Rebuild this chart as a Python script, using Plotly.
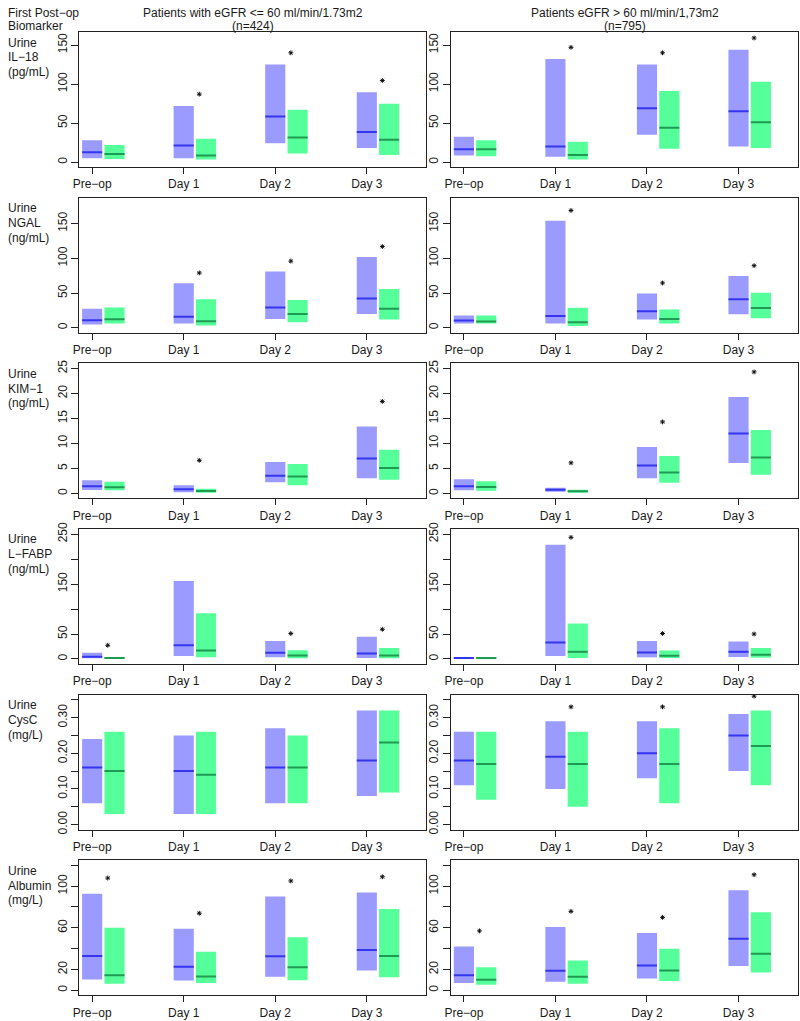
import plotly.graph_objects as go

# ---------------- data ----------------
categories = ["Pre\u2212op", "Day 1", "Day 2", "Day 3"]
row_labels = [
    ["Urine", "IL\u221218", "(pg/mL)"],
    ["Urine", "NGAL", "(ng/mL)"],
    ["Urine", "KIM\u22121", "(ng/mL)"],
    ["Urine", "L\u2212FABP", "(ng/mL)"],
    ["Urine", "CysC", "(mg/L)"],
    ["Urine", "Albumin", "(mg/L)"],
]
col_titles = [
    ["Patients with eGFR <= 60 ml/min/1.73m2", "(n=424)"],
    ["Patients eGFR > 60 ml/min/1,73m2", "(n=795)"],
]

# (25th pct, median, 75th pct) per time point; "blue" and "green" groups
il18_low_blue = [(5, 12.6, 28), (5, 21.4, 72), (24, 58.4, 125), (18, 38.7, 89.5)]
il18_low_green = [(4, 10.5, 22), (3.4, 8.4, 30), (11, 31.5, 67), (9.2, 28.6, 74.8)]
il18_high_blue = [(8.4, 16.4, 32.4), (7, 20, 132), (35, 69, 125), (20, 65, 144)]
il18_high_green = [(7.6, 16.4, 28), (3.4, 9.2, 26), (17, 44, 91), (18, 51, 103)]

ngal_low_blue = [(4.7, 10.8, 27.4), (6, 16, 64), (12.7, 29, 81), (19.8, 42, 102)]
ngal_low_green = [(6, 12.3, 29), (3.3, 9.4, 41), (8, 19.8, 40), (11.8, 27.4, 55.7)]
ngal_high_blue = [(6, 10.4, 17.5), (6, 17, 154), (11.8, 23.6, 49.5), (19.3, 41, 74.5)]
ngal_high_green = [(6, 9, 17.5), (2.4, 8, 28.8), (6, 12.7, 26.4), (13.7, 28.3, 50.5)]

kim1_low_blue = [(0.66, 1.4, 2.6), (0.2, 0.8, 1.6), (2.2, 3.5, 6.3), (3.0, 7.0, 13.4)]
kim1_low_green = [(0.6, 1.2, 2.3), (0.13, 0.45, 0.9), (1.6, 3.35, 5.9), (2.7, 5.1, 8.75)]
kim1_high_blue = [(0.6, 1.4, 2.8), (0.33, 0.72, 1.1), (3.0, 5.6, 9.3), (6.1, 12.0, 19.3)]
kim1_high_green = [(0.5, 1.25, 2.4), (0.13, 0.4, 0.72), (2.1, 4.2, 7.5), (3.7, 7.2, 12.7)]

lfabp_low_blue = [(1.3, 4.6, 12.4), (5.9, 27.4, 156), (3.3, 12.4, 36), (2, 11, 44.4)]
lfabp_low_green = [(0.7, 2, 3.3), (3.3, 17, 91.4), (1.3, 7.2, 17.6), (1.3, 7.2, 22)]
lfabp_high_blue = [(0.7, 2, 3.9), (5.9, 33, 228.5), (3.3, 13, 36), (3.9, 14.4, 35)]
lfabp_high_green = [(0.7, 2, 3.3), (2, 14.4, 71), (2, 6.5, 17), (2.6, 8.5, 22)]

cysc_low_blue = [(0.06, 0.16, 0.24), (0.03, 0.15, 0.25), (0.06, 0.16, 0.27), (0.08, 0.18, 0.32)]
cysc_low_green = [(0.03, 0.15, 0.26), (0.03, 0.14, 0.26), (0.06, 0.16, 0.25), (0.09, 0.23, 0.32)]
cysc_high_blue = [(0.11, 0.18, 0.26), (0.10, 0.19, 0.29), (0.13, 0.20, 0.29), (0.15, 0.25, 0.31)]
cysc_high_green = [(0.07, 0.17, 0.26), (0.05, 0.17, 0.26), (0.06, 0.17, 0.27), (0.11, 0.22, 0.32)]

alb_low_blue = [(10.3, 33, 92.8), (9.4, 22.6, 59), (12.9, 32.6, 90), (19, 38.6, 94)]
alb_low_green = [(6.3, 14.4, 60), (6.9, 13.2, 37), (9.7, 22, 50.8), (12.5, 33, 78)]
alb_high_blue = [(6.9, 14.4, 42), (8.2, 18.8, 60.8), (11.3, 23.8, 55), (23.2, 49.5, 96)]
alb_high_green = [(5.3, 10, 22), (6.3, 12.9, 28.5), (8.8, 19, 39.8), (17, 35, 75)]

# significance asterisks (1 = shown)
il18_low_star = [0, 1, 1, 1]
il18_high_star = [0, 1, 1, 1]
ngal_low_star = [0, 1, 1, 1]
ngal_high_star = [0, 1, 1, 1]
kim1_low_star = [0, 1, 0, 1]
kim1_high_star = [0, 1, 1, 1]
lfabp_low_star = [1, 0, 1, 1]
lfabp_high_star = [0, 1, 1, 1]
cysc_low_star = [0, 0, 0, 0]
cysc_high_star = [0, 1, 1, 1]
alb_low_star = [1, 1, 1, 1]
alb_high_star = [1, 1, 1, 1]

# axis limits (R-style: ylim upper) and tick marks
y_upper = [160, 180, 25, 250, 0.35, 120]
star_gap = [15, 15, 5, 15, 0.04, 15]
y_tickvals = [
    [0, 50, 100, 150],
    [0, 50, 100, 150],
    [0, 5, 10, 15, 20, 25],
    [0, 50, 100, 150, 200, 250],
    [0, 0.05, 0.10, 0.15, 0.20, 0.25, 0.30, 0.35],
    [0, 20, 40, 60, 80, 100, 120],
]
y_ticktext = [
    ["0", "50", "100", "150"],
    ["0", "50", "100", "150"],
    ["0", "5", "10", "15", "20", "25"],
    ["0", "50", "", "150", "", "250"],
    ["0.00", "", "0.10", "", "0.20", "", "0.30", ""],
    ["0", "20", "", "60", "", "100", ""],
]

panels = [
    [(il18_low_blue, il18_low_green, il18_low_star), (il18_high_blue, il18_high_green, il18_high_star)],
    [(ngal_low_blue, ngal_low_green, ngal_low_star), (ngal_high_blue, ngal_high_green, ngal_high_star)],
    [(kim1_low_blue, kim1_low_green, kim1_low_star), (kim1_high_blue, kim1_high_green, kim1_high_star)],
    [(lfabp_low_blue, lfabp_low_green, lfabp_low_star), (lfabp_high_blue, lfabp_high_green, lfabp_high_star)],
    [(cysc_low_blue, cysc_low_green, cysc_low_star), (cysc_high_blue, cysc_high_green, cysc_high_star)],
    [(alb_low_blue, alb_low_green, alb_low_star), (alb_high_blue, alb_high_green, alb_high_star)],
]

# ---------------- styling / layout ----------------
W, H = 800, 1021
FONT = "Liberation Sans, Arial, Helvetica, sans-serif"
TXT = "#1a1a1a"
BLUE_FILL = "#9a9aff"
BLUE_MED = "#3535f0"
GREEN_FILL = "#55ff99"
GREEN_MED = "#1f9a52"
BAR_W = 0.22
GREEN_SHIFT = 0.244
STAR_SHIFT = 0.17

col_px = [(73, 423), (448, 798)]
row_top0, row_pitch, box_h = 25.5, 167.6, 136.5

fig = go.Figure()
layout = dict(
    width=W, height=H,
    margin=dict(l=0, r=0, t=0, b=0),
    paper_bgcolor="white", plot_bgcolor="white",
    showlegend=False, barmode="overlay",
    font=dict(family=FONT, size=12, color=TXT),
)
annotations = []

pos = [1, 2, 3, 4]
for r in range(6):
    top = row_top0 + r * row_pitch
    bot = top + box_h
    ydom = [1 - bot / H, 1 - top / H]
    ext = 0.04 * y_upper[r]
    for c in range(2):
        n = r * 2 + c + 1
        xa = "x" if n == 1 else f"x{n}"
        ya = "y" if n == 1 else f"y{n}"
        blue, green, star = panels[r][c]
        for vals, shift, fill, med in ((blue, 0.0, BLUE_FILL, BLUE_MED), (green, GREEN_SHIFT, GREEN_FILL, GREEN_MED)):
            xs = [p + shift for p in pos]
            lo = [v[0] for v in vals]
            md = [v[1] for v in vals]
            hi = [v[2] for v in vals]
            fig.add_trace(go.Bar(
                x=xs, y=[h - l for h, l in zip(hi, lo)], base=lo, width=BAR_W,
                marker=dict(color=fill, line=dict(width=0)),
                xaxis=xa, yaxis=ya, hoverinfo="skip",
            ))
            lx, ly = [], []
            for x0, m in zip(xs, md):
                lx += [x0 - BAR_W / 2, x0 + BAR_W / 2, None]
                ly += [m, m, None]
            fig.add_trace(go.Scatter(
                x=lx, y=ly, mode="lines", line=dict(color=med, width=2),
                xaxis=xa, yaxis=ya, hoverinfo="skip",
            ))
        sx, sy = [], []
        for i, s in enumerate(star):
            if s:
                sx.append(pos[i] + STAR_SHIFT)
                sy.append(max(blue[i][2], green[i][2]) + star_gap[r])
        if sx:
            fig.add_trace(go.Scatter(
                x=sx, y=sy, mode="markers",
                marker=dict(symbol="asterisk-open", size=4, color="#111",
                            line=dict(color="#111", width=1)),
                xaxis=xa, yaxis=ya, hoverinfo="skip",
            ))
        x0p, x1p = col_px[c]
        layout["xaxis" if n == 1 else f"xaxis{n}"] = dict(
            domain=[x0p / W, x1p / W], anchor=ya, range=[0.86, 4.65],
            tickmode="array", tickvals=pos, ticktext=categories,
            ticks="outside", ticklen=6, tickwidth=1, tickcolor="#222",
            showline=True, linecolor="#222", linewidth=1, mirror=True,
            showgrid=False, zeroline=False, fixedrange=True,
            tickfont=dict(family=FONT, size=12, color=TXT),
        )
        layout["yaxis" if n == 1 else f"yaxis{n}"] = dict(
            domain=ydom, anchor=xa, range=[-ext, y_upper[r] + ext],
            tickmode="array", tickvals=y_tickvals[r], ticktext=y_ticktext[r],
            ticks="outside", ticklen=7, tickwidth=1, tickcolor="#222", tickangle=-90,
            showline=True, linecolor="#222", linewidth=1, mirror=True,
            showgrid=False, zeroline=False, fixedrange=True,
            tickfont=dict(family=FONT, size=12, color=TXT),
        )
    # row labels
    for k, t in enumerate(row_labels[r]):
        annotations.append(dict(
            text=t, xref="paper", yref="paper", x=0, y=1 - (top + 10.5 + 15 * k) / H,
            xanchor="left", yanchor="middle", showarrow=False, borderpad=0,
            font=dict(family=FONT, size=12, color=TXT),
        ))

# header
for k, t in enumerate(["First Post\u2212op", "Biomarker"]):
    annotations.append(dict(
        text=t, xref="paper", yref="paper", x=0, y=1 - (6 + 13 * k) / H,
        xanchor="left", yanchor="middle", showarrow=False, borderpad=0,
        font=dict(family=FONT, size=12, color=TXT),
    ))
for c in range(2):
    cx = (col_px[c][0] + col_px[c][1]) / 2 / W
    for k, t in enumerate(col_titles[c]):
        annotations.append(dict(
            text=t, xref="paper", yref="paper", x=cx, y=1 - (6 + 13 * k) / H,
            xanchor="center", yanchor="middle", showarrow=False, borderpad=0,
            font=dict(family=FONT, size=12, color=TXT),
        ))

layout["annotations"] = annotations
fig.update_layout(**layout)
fig.write_html(
    "out.html",
    config={"displayModeBar": False},
    post_script="document.body.style.margin='0';document.body.style.overflow='hidden';",
)
